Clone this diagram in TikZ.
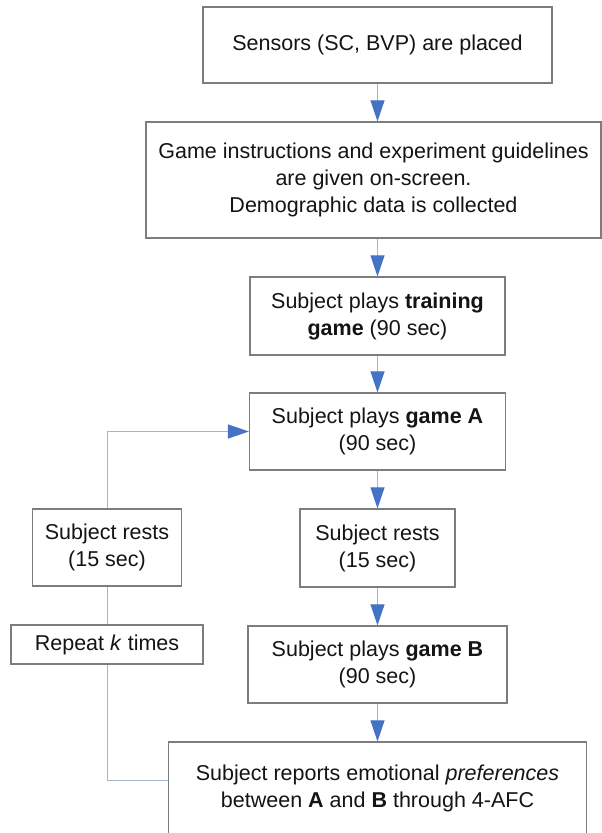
\documentclass[tikz,border=0pt]{standalone}
\usepackage{fontspec}
\setmainfont{Liberation Sans}
\usetikzlibrary{arrows.meta}
\definecolor{boxline}{RGB}{125,125,125}
\definecolor{linkline}{RGB}{160,182,208}
\definecolor{tipblue}{RGB}{68,114,196}
\definecolor{ink}{RGB}{20,20,20}
\begin{document}
\begin{tikzpicture}[x=1pt,y=1pt,
  stepbox/.style={draw=boxline, line width=1.2pt, fill=white, align=center,
    inner sep=0pt, text=ink, font=\fontsize{21.5}{27}\selectfont},
  link/.style={draw=linkline, line width=1pt},
  flow/.style={link, -{Triangle[length=21pt,width=14pt,color=tipblue]}}]
\path[use as bounding box] (0,0) rectangle (602,-833);
\clip (0,0) rectangle (602,-833);

% main column
\node[stepbox, minimum width=349, minimum height=76] (s1) at (377.5,-45)
  {Sensors (SC, BVP) are placed};
\node[stepbox, minimum width=455, minimum height=116] (s2) at (373.5,-180)
  {Game instructions and experiment guidelines\\are given on-screen.\\Demographic data is collected};
\node[stepbox, minimum width=255, minimum height=78] (s3) at (377.5,-316)
  {Subject plays \textbf{training}\\\textbf{game} (90 sec)};
\node[stepbox, minimum width=256, minimum height=77] (gA) at (377.5,-431.5)
  {Subject plays \textbf{game A}\\(90 sec)};
\node[stepbox, minimum width=155, minimum height=78] (restM) at (377.5,-548)
  {Subject rests\\(15 sec)};
\node[stepbox, minimum width=259, minimum height=77] (gB) at (377.5,-664.5)
  {Subject plays \textbf{game B}\\(90 sec)};
\node[stepbox, minimum width=418, minimum height=92] (report) at (377.5,-788)
  {Subject reports emotional \textit{preferences}\\between \textbf{A} and \textbf{B} through 4-AFC};

% loop column
\node[stepbox, minimum width=149, minimum height=77] (restL) at (107,-547.5)
  {Subject rests\\(15 sec)};
\node[stepbox, minimum width=192, minimum height=39] (repeat) at (107,-644.5)
  {Repeat \textit{k} times};

% forward arrows
\draw[flow] (s1.south) -- (s1.south |- s2.north);
\draw[flow] (s3.north |- s2.south) -- (s3.north);
\draw[flow] (s3.south) -- (gA.north);
\draw[flow] (gA.south) -- (restM.north);
\draw[flow] (restM.south) -- (gB.north);
\draw[flow] (gB.south) -- (report.north);

% repetition loop
\path (report.west) ++(0,8) coordinate (loopin);
\draw[link] (loopin) -| (repeat.south);
\draw[link] (repeat.north) -- (restL.south);
\draw[flow] (restL.north) |- (gA.west);
\end{tikzpicture}
\end{document}
